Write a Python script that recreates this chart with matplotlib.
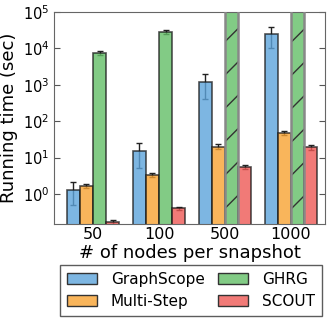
import numpy as np
import matplotlib
matplotlib.use("Agg")
import matplotlib.pyplot as plt
from matplotlib.patches import Patch
from matplotlib.ticker import NullLocator

categories = ["50", "100", "500", "1000"]
series_names = ["GraphScope", "Multi-Step", "GHRG", "SCOUT"]
graphscope = [1.3, 15, 1200, 25000]
graphscope_err = [0.8, 10, 800, 15000]
multistep = [1.65, 3.3, 20, 48]
multistep_err = [0.22, 0.45, 3.0, 6.5]
ghrg = [7500, 28000, None, None]        # None = did not finish (hatched, off the chart)
ghrg_err = [1100, 3500, None, None]
scout = [0.17, 0.40, 5.5, 19]
scout_err = [0.02, 0.05, 0.6, 3.0]

values = [graphscope, multistep, ghrg, scout]
errors = [graphscope_err, multistep_err, ghrg_err, scout_err]
targets = ["#7DB6E2", "#F9B55B", "#82CB85", "#F17A77"]
alpha = 0.8


def base_color(hexc):
    c = np.array(matplotlib.colors.to_rgb(hexc))
    b = 1 - (1 - c) / alpha
    return tuple(np.clip(b, 0, 1))


fig = plt.figure(figsize=(3.32, 3.18), dpi=100)
ax = fig.add_axes([0.163, 0.296, 0.816, 0.666])
ax.set_yscale("log")
ylim = (0.15, 1e5)
ax.set_ylim(*ylim)

x = np.arange(len(categories))
width = 0.2
for k, (vals, errs, col) in enumerate(zip(values, errors, targets)):
    pos = x + (k - 1.5) * width
    for xi, v, e in zip(pos, vals, errs):
        if v is None:
            ax.bar(xi, ylim[1] * 10, width, bottom=1e-3, color=targets[k],
                   edgecolor="#333333", linewidth=0, hatch="/", zorder=2)
            ax.bar(xi, ylim[1] * 10, width, bottom=1e-3, facecolor="none",
                   edgecolor="#888888", linewidth=1.8, zorder=3)
        else:
            ax.errorbar(xi, v, yerr=e, fmt="none", ecolor="#222222",
                        elinewidth=1.0, capsize=2, capthick=1.0, zorder=1)
            ax.bar(xi, v, width, bottom=1e-3,
                   color=base_color(col) + (alpha,),
                   edgecolor=(0.1, 0.1, 0.1, 0.75), linewidth=1.2, zorder=2)

ax.set_xlim(-0.59, 3.515)
ax.set_xticks(x)
ax.set_xticklabels(categories, fontsize=11.5)
ax.tick_params(axis="x", length=0, pad=2.5)
ax.set_yticks([1, 10, 100, 1000, 1e4, 1e5])
ax.yaxis.set_minor_locator(NullLocator())
ax.tick_params(axis="y", which="major", direction="in", length=4,
               right=True, labelsize=10.5, color="#555555")
for s in ax.spines.values():
    s.set_color("#666666")
ax.set_ylabel("Running time (sec)", fontsize=13, labelpad=3)
ax.set_xlabel("# of nodes per snapshot", fontsize=13, labelpad=1)

handles = [Patch(facecolor=c, edgecolor="#333333", linewidth=1.0) for c in targets]
leg = fig.legend(handles, series_names, loc="upper center",
                 bbox_to_anchor=(0.575, 0.167), ncol=2, fontsize=11,
                 fancybox=False, handlelength=2.0, handleheight=0.7,
                 columnspacing=0.85, borderpad=0.45, labelspacing=0.45,
                 handletextpad=0.9, borderaxespad=0)
leg.get_frame().set_edgecolor("#333333")
leg.get_frame().set_linewidth(1.0)

fig.savefig("out.png", dpi=100)
